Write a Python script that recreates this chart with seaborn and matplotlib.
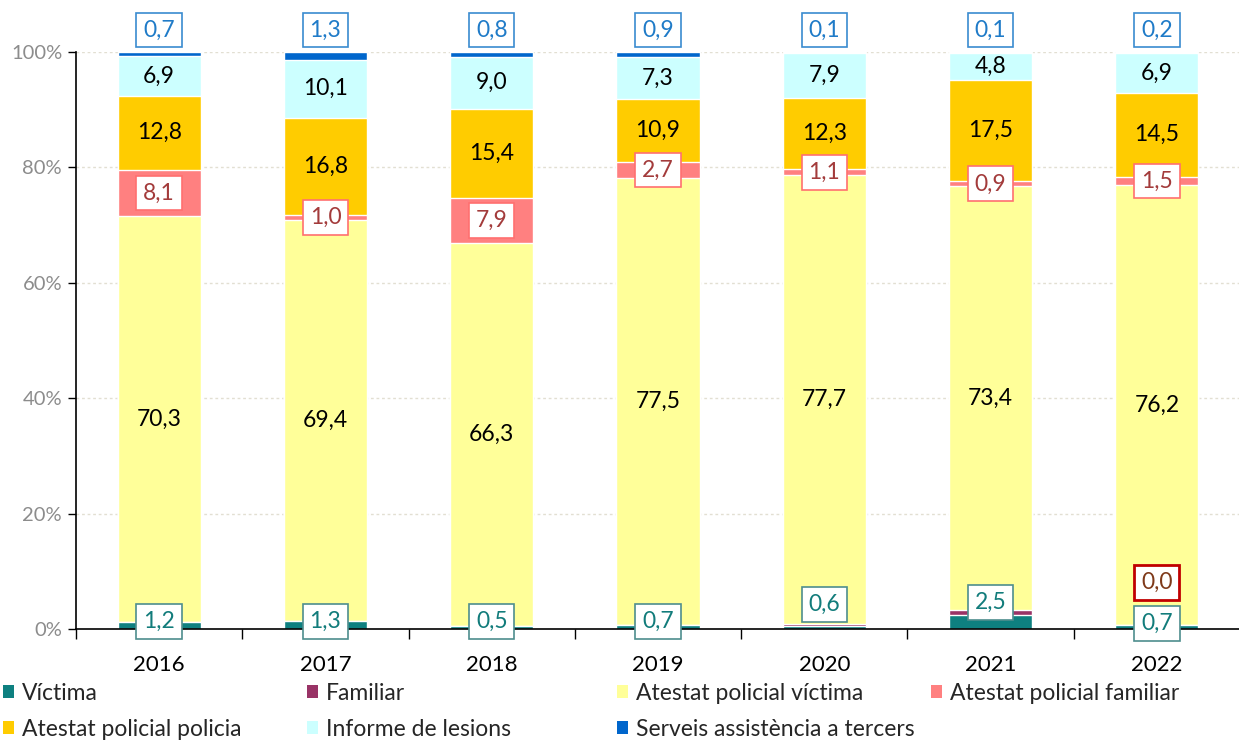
import numpy as np
import pandas as pd
import matplotlib
matplotlib.use('Agg')
import matplotlib.pyplot as plt
import seaborn as sns
from matplotlib.patches import Patch

# ---------------- data ----------------
years = ['2016', '2017', '2018', '2019', '2020', '2021', '2022']
victima = [1.2, 1.3, 0.5, 0.7, 0.6, 2.5, 0.7]
familiar = [0.0, 0.1, 0.0, 0.0, 0.3, 0.8, 0.0]
atestat_victima = [70.3, 69.4, 66.3, 77.5, 77.7, 73.4, 76.2]
atestat_familiar = [8.1, 1.0, 7.9, 2.7, 1.1, 0.9, 1.5]
atestat_policia = [12.8, 16.8, 15.4, 10.9, 12.3, 17.5, 14.5]
informe_lesions = [6.9, 10.1, 9.0, 7.3, 7.9, 4.8, 6.9]
serveis = [0.7, 1.3, 0.8, 0.9, 0.1, 0.1, 0.2]

series_names = ['Víctima', 'Familiar', 'Atestat policial víctima',
                'Atestat policial familiar', 'Atestat policial policia',
                'Informe de lesions', 'Serveis assistència a tercers']
series_values = [victima, familiar, atestat_victima, atestat_familiar,
                 atestat_policia, informe_lesions, serveis]
colors = ['#0E8080', '#993366', '#FFFF99', '#FF8080', '#FFCC00', '#CCFFFF', '#0066CC']

# label placement (layout only)
victima_label_y = [1.3, 1.3, 1.3, 1.3, 4.2, 4.6, 0.9]
familiar_label_y_2022 = 8.0
serveis_label_y = 103.8

# ---------------- style ----------------
sns.set_style('white')
plt.rcParams['font.family'] = ['Lato', 'DejaVu Sans']

fig = plt.figure(figsize=(12.39, 7.42), dpi=100)
W, H = 1239, 742
ax = fig.add_axes([76 / W, (H - 629) / H, (1240 - 76) / W, (629 - 52) / H])

df = pd.DataFrame({'Any': years})
vals = np.array(series_values, dtype=float)
totals = vals.sum(axis=0)
pct = vals / totals * 100
cum = np.cumsum(pct, axis=0)
for i, name in enumerate(series_names):
    df[name + '_cum'] = cum[i]

# draw from top layer down so that lower layers overlay
for i in range(len(series_names) - 1, -1, -1):
    sns.barplot(data=df, x='Any', y=series_names[i] + '_cum', color=colors[i],
                saturation=1, width=0.5, errorbar=None, ax=ax, zorder=2)

ax.set_xlabel('')
ax.set_ylabel('')
ax.set_ylim(0, 100)
ax.set_xlim(-0.5, len(years) - 0.5)

# axes styling
for s in ['top', 'right']:
    ax.spines[s].set_visible(False)
for s in ['left', 'bottom']:
    ax.spines[s].set_color('black')
    ax.spines[s].set_linewidth(1.2)
    ax.spines[s].set_zorder(4)

ax.set_yticks(np.arange(0, 101, 20))
ax.set_yticklabels([f'{v}%' for v in range(0, 101, 20)])
ax.tick_params(axis='y', which='major', length=6, width=1, color='black',
               direction='out', labelsize=14.5, labelcolor='#8C8C8C', pad=4, left=True)
ax.set_xticks(range(len(years)))
ax.set_xticklabels(years)
ax.tick_params(axis='x', which='major', length=0, labelsize=16, labelcolor='black', pad=19)
ax.set_xticks(np.arange(-0.5, len(years), 1), minor=True)
ax.tick_params(axis='x', which='minor', length=7, width=1, color='black', direction='out', bottom=True)

for yv in range(20, 101, 20):
    ax.axhline(yv, color='#E2DFD2', lw=1.0, ls=(0, (2, 2)), zorder=1)


def fmt(v):
    return f'{v:.1f}'.replace('.', ',')


fs = 16.5
pad = 'square,pad=0.3'
for j in range(len(years)):
    bottoms = np.concatenate([[0], cum[:-1, j]])
    for i, name in enumerate(series_names):
        v = series_values[i][j]
        center = bottoms[i] + pct[i, j] / 2
        if i == 0:
            ax.text(j, victima_label_y[j], fmt(v), ha='center', va='center', fontsize=fs,
                    color='#127C7B', zorder=6, clip_on=False,
                    bbox=dict(boxstyle=pad, fc='white', ec='#4E8E8E', lw=1.2))
        elif i == 1:
            if j == len(years) - 1:
                ax.text(j, familiar_label_y_2022, fmt(v), ha='center', va='center', fontsize=fs,
                        color='#7F3A1A', zorder=6, clip_on=False,
                        bbox=dict(boxstyle=pad, fc='white', ec='#C00000', lw=2))
        elif i == 3:
            ax.text(j, center, fmt(v), ha='center', va='center', fontsize=fs,
                    color='#A33B3B', zorder=6,
                    bbox=dict(boxstyle=pad, fc='white', ec='#FF7070', lw=1.2))
        elif i == 6:
            ax.text(j, serveis_label_y, fmt(v), ha='center', va='center', fontsize=fs,
                    color='#1F7BC8', zorder=6, clip_on=False,
                    bbox=dict(boxstyle=pad, fc='white', ec='#3A8BCF', lw=1.2))
        else:
            ax.text(j, center, fmt(v), ha='center', va='center', fontsize=fs,
                    color='black', zorder=6)

# legend: 4 columns x 2 rows, row-major order
col_x = [3, 307, 617, 931]
row_y = [693, 729]
for k, name in enumerate(series_names):
    r, c = divmod(k, 4)
    handle = Patch(facecolor=colors[k], edgecolor='none')
    fig.legend([handle], [name], loc='center left',
               bbox_to_anchor=(col_x[c] / W, 1 - row_y[r] / H),
               bbox_transform=fig.transFigure, frameon=False, fontsize=16.5,
               borderpad=0, borderaxespad=0, handlelength=0.5, handleheight=0.5,
               handletextpad=0.32)

fig.savefig('out.png', dpi=100)
